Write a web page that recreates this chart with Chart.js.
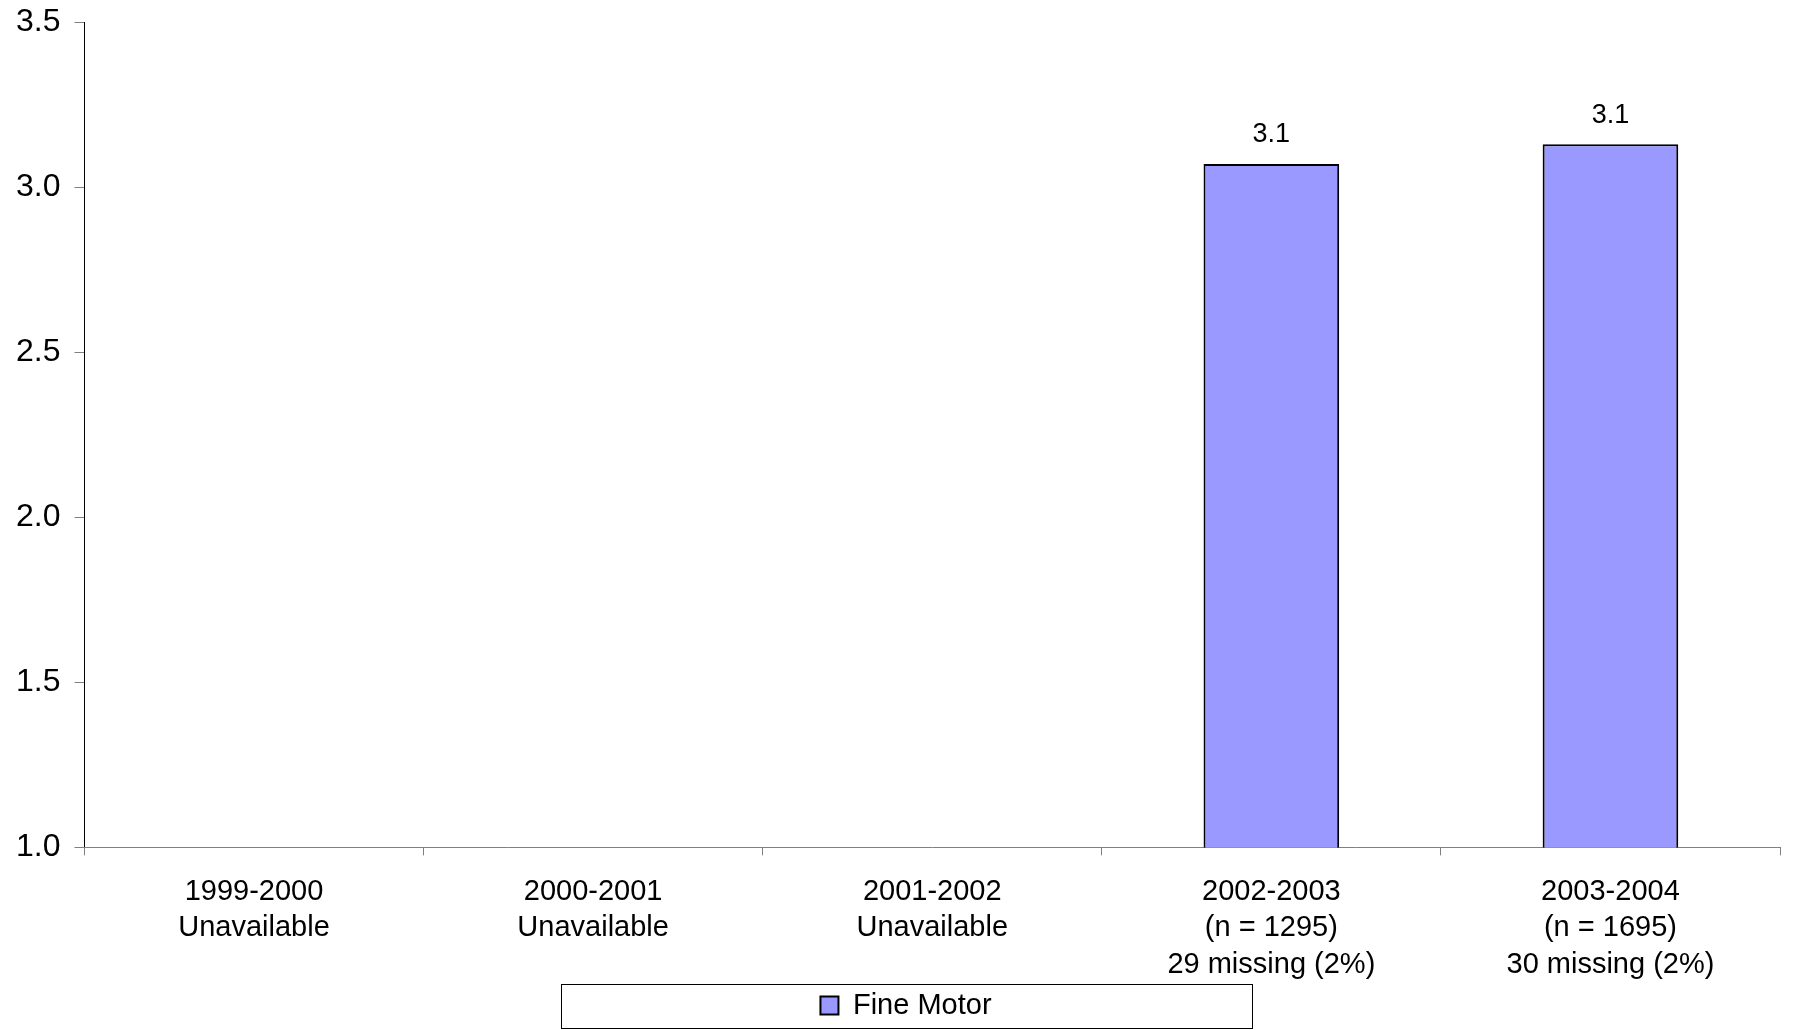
<!DOCTYPE html>
<html>
<head>
<meta charset="utf-8">
<script src="https://cdn.jsdelivr.net/npm/chart.js@4.4.1/dist/chart.umd.min.js"></script>
<style>
    html, body { margin: 0; padding: 0; background: #fff; }
    #wrap { width: 1793px; height: 1030px; }
</style>
</head>
<body>
<div id="wrap"><canvas id="myChart"></canvas></div>
<script>
// Datos
const categorias = [
    ["1999-2000", "Unavailable"],
    ["2000-2001", "Unavailable"],
    ["2001-2002", "Unavailable"],
    ["2002-2003", "(n = 1295)", "29 missing (2%)"],
    ["2003-2004", "(n = 1695)", "30 missing (2%)"]
];
const valoresFineMotor = [null, null, null, 3.07, 3.13];
const ticksY = [1.0, 1.5, 2.0, 2.5, 3.0, 3.5];

const fuente = "Arial, 'Liberation Sans', sans-serif";

// Etiquetas de valor encima de las barras
const etiquetasBarras = {
    id: "etiquetasBarras",
    afterDatasetsDraw(chart) {
        const ctx = chart.ctx;
        const meta = chart.getDatasetMeta(0);
        ctx.save();
        ctx.font = "27px " + fuente;
        ctx.fillStyle = "#000";
        ctx.textAlign = "center";
        ctx.textBaseline = "middle";
        meta.data.forEach((bar, i) => {
            const v = valoresFineMotor[i];
            if (v === null) return;
            ctx.fillText(v.toFixed(1), bar.x, bar.y - 29);
        });
        ctx.restore();
    }
};

// Mover la leyenda un poco a la derecha y dibujar su marco
const marcoLeyenda = {
    id: "marcoLeyenda",
    afterLayout(chart) {
        const legend = chart.legend;
        if (!legend) return;
        legend.left += 15;
        legend.right += 15;
    },
    afterDraw(chart) {
        const legend = chart.legend;
        if (!legend) return;
        const cx = (legend.left + legend.right) / 2;
        const cy = (legend.top + legend.bottom) / 2;
        const ctx = chart.ctx;
        ctx.save();
        ctx.strokeStyle = "#000";
        ctx.lineWidth = 1;
        ctx.strokeRect(Math.round(cx - 345) + 0.5, Math.round(cy - 22) + 0.5, 691, 44);
        ctx.restore();
    }
};

const ctx = document.getElementById("myChart").getContext("2d");
const myChart = new Chart(ctx, {
    type: "bar",
    data: {
        labels: categorias,
        datasets: [{
            label: "Fine Motor",
            data: valoresFineMotor,
            backgroundColor: "#9999FF",
            borderColor: "#000000",
            borderWidth: 2,
            barPercentage: 0.4,
            categoryPercentage: 1.0
        }]
    },
    options: {
        responsive: true,
        maintainAspectRatio: false,
        animation: false,
        layout: { padding: { left: 2, right: 13, top: 22, bottom: 0 } },
        scales: {
            y: {
                min: 1,
                max: 3.5,
                afterBuildTicks: axis => { axis.ticks = ticksY.map(v => ({ value: v })); },
                afterFit: scale => { scale.paddingTop = 0; },
                grid: { drawOnChartArea: false, tickLength: 10, color: "#808080" },
                border: { color: "#000", width: 1 },
                ticks: {
                    color: "#000",
                    font: { family: fuente, size: 32 },
                    padding: 14,
                    callback: v => Number(v).toFixed(1)
                }
            },
            x: {
                afterFit: scale => { scale.height -= 19; },
                grid: { drawOnChartArea: false, tickLength: 8, color: "#808080", offset: true },
                border: { color: "#808080", width: 1 },
                ticks: {
                    color: "#000",
                    font: { family: fuente, size: 29, lineHeight: 1.26 },
                    padding: 18,
                    maxRotation: 0,
                    autoSkip: false
                }
            }
        },
        plugins: {
            legend: {
                position: "bottom",
                padding: 0,
                labels: {
                    color: "#000",
                    font: { family: fuente, size: 29 },
                    boxWidth: 18,
                    boxHeight: 18,
                    padding: 9
                }
            },
            tooltip: { enabled: false }
        }
    },
    plugins: [etiquetasBarras, marcoLeyenda]
});
</script>
</body>
</html>
